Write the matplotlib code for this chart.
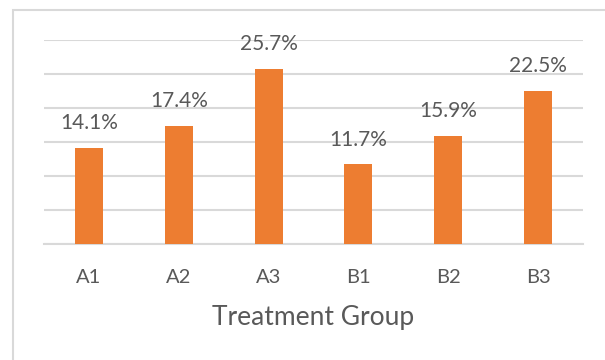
import matplotlib
matplotlib.use('Agg')
import matplotlib.pyplot as plt
from matplotlib.patches import Rectangle

groups = ['A1', 'A2', 'A3', 'B1', 'B2', 'B3']
rates = [14.1, 17.4, 25.7, 11.7, 15.9, 22.5]

plt.rcParams['font.family'] = ['Lato', 'DejaVu Sans']

fig = plt.figure(figsize=(6.05, 3.6), dpi=100)
W, H = 605, 360
ax = fig.add_axes([44 / W, 1 - 244 / H, (583 - 44) / W, (244 - 40) / H])

# chart-area border (only left and top edges visible in the crop)
fig.add_artist(Rectangle((13 / W, -0.1), 1.2, 1.1 - 10 / H, transform=fig.transFigure,
                         fill=False, edgecolor='#d9d9d9', linewidth=1.5))

x = range(len(groups))
ax.bar(x, rates, width=0.31, color='#ed7d31', zorder=3)
ax.set_xlim(-0.5, len(groups) - 0.5)
ax.set_ylim(0, 30)
ax.set_yticks(range(0, 31, 5))
ax.yaxis.grid(True, color='#d9d9d9', linewidth=1.5, zorder=0)
ax.tick_params(axis='y', left=False, labelleft=False)
ax.tick_params(axis='x', length=0, pad=18, labelsize=14.5, labelcolor='#595959')
ax.set_xticks(list(x))
ax.set_xticklabels(groups)
for s in ['top', 'right', 'left']:
    ax.spines[s].set_visible(False)
ax.spines['bottom'].set_color('#d9d9d9')
ax.spines['bottom'].set_linewidth(1.5)

for xi, v in zip(x, rates):
    ax.annotate(f'{v:.1f}%', (xi, v), xytext=(0, 13.5), textcoords='offset points',
                ha='center', va='baseline', fontsize=15, color='#595959')

ax.set_xlabel('Treatment Group', fontsize=19, color='#595959', labelpad=14)

fig.savefig('out.png', dpi=100)
